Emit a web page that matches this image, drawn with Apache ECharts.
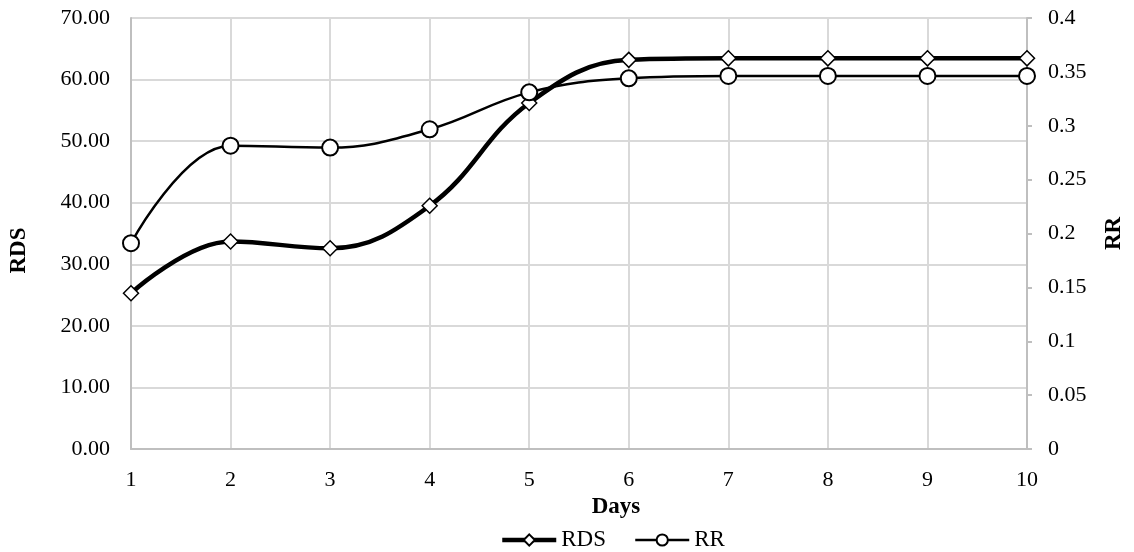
<!DOCTYPE html>
<html><head><meta charset="utf-8">
<script src="https://cdn.jsdelivr.net/npm/echarts@6/dist/echarts.min.js"></script>
<style>html,body{margin:0;padding:0;background:#fff}#c{width:1134px;height:552px}</style>
</head><body><div id="c"></div>
<script>
const days = ['1','2','3','4','5','6','7','8','9','10'];
const rds = [25.3, 33.7, 32.6, 39.5, 56.2, 63.2, 63.45, 63.45, 63.45, 63.45];
const rr = [0.191, 0.2815, 0.2797, 0.2967, 0.331, 0.344, 0.3462, 0.3462, 0.3462, 0.3462];
const font = 'Liberation Serif';
const fs = 22;
const chart = echarts.init(document.getElementById('c'));
chart.setOption({
  animation: false,
  textStyle: {fontFamily: font, color: '#000'},
  grid: {left: 130, right: 103, top: 18, bottom: 103, containLabel: false},
  legend: {
    top: 528, left: 500, padding: 0, itemWidth: 54, itemHeight: 14, itemGap: 28,
    textStyle: {fontFamily: font, fontSize: 23, color: '#000', lineHeight: 24},
    data: [
      {name: 'RDS', lineStyle: {width: 4.5, color: '#000'}},
      {name: 'RR', lineStyle: {width: 2.5, color: '#000'}}
    ]
  },
  xAxis: {
    type: 'category', data: days, boundaryGap: false,
    name: 'Days', nameLocation: 'middle', nameGap: 46,
    nameTextStyle: {fontFamily: font, fontSize: 23, fontWeight: 'bold', color: '#000', padding: [0, 0, 0, 74]},
    axisLine: {lineStyle: {color: '#bfbfbf', width: 2}},
    axisTick: {show: false},
    axisLabel: {fontFamily: font, fontSize: fs, color: '#000', margin: 20},
    splitLine: {show: true, lineStyle: {color: '#d9d9d9', width: 2}}
  },
  yAxis: [{
    type: 'value', min: 0, max: 70, interval: 10, position: 'left',
    name: 'RDS', nameLocation: 'middle', nameGap: 100, nameRotate: 90,
    nameTextStyle: {fontFamily: font, fontSize: 23, fontWeight: 'bold', color: '#000', padding: [0, 34, 0, 0]},
    axisLine: {show: true, lineStyle: {color: '#bfbfbf', width: 2}},
    axisTick: {show: false},
    axisLabel: {fontFamily: font, fontSize: fs, color: '#000', margin: 21, formatter: v => v.toFixed(2)},
    splitLine: {show: true, lineStyle: {color: '#d9d9d9', width: 2}}
  }, {
    type: 'value', min: 0, max: 0.4, interval: 0.05, position: 'right',
    name: 'RR', nameLocation: 'middle', nameGap: 76, nameRotate: 90,
    nameTextStyle: {fontFamily: font, fontSize: 23, fontWeight: 'bold', color: '#000'},
    axisLine: {show: true, lineStyle: {color: '#bfbfbf', width: 2}},
    axisTick: {show: true, inside: false, length: 5, lineStyle: {color: '#bfbfbf', width: 2}},
    axisLabel: {fontFamily: font, fontSize: fs, color: '#000', margin: 21, formatter: v => String(+v.toFixed(2))},
    splitLine: {show: false}
  }],
  series: [{
    name: 'RDS', type: 'line', yAxisIndex: 0, data: rds, smooth: 0.4,
    symbol: 'diamond', symbolSize: 15,
    lineStyle: {color: '#000', width: 4.5},
    itemStyle: {color: '#fff', borderColor: '#000', borderWidth: 1.5},
    z: 3
  }, {
    name: 'RR', type: 'line', yAxisIndex: 1, data: rr, smooth: 0.4,
    symbol: 'circle', symbolSize: 16,
    lineStyle: {color: '#000', width: 2.5},
    itemStyle: {color: '#fff', borderColor: '#000', borderWidth: 2},
    z: 4
  }]
});
</script></body></html>
